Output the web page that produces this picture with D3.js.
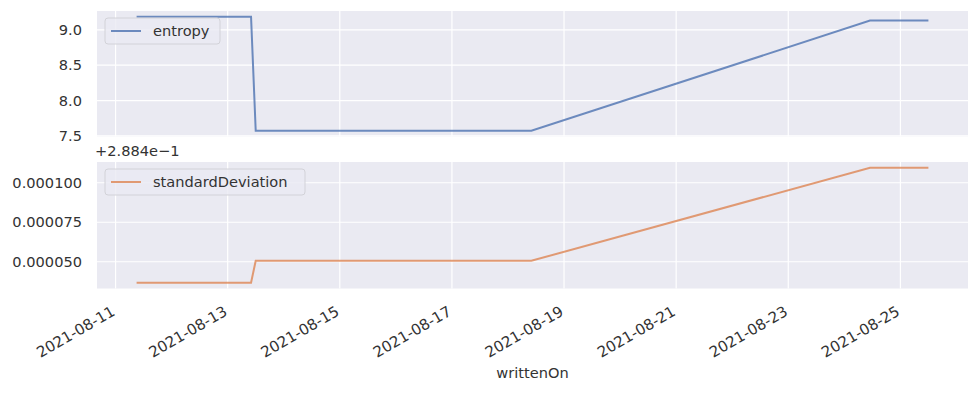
<!DOCTYPE html>
<html>
<head>
<meta charset="utf-8">
<script src="https://cdn.jsdelivr.net/npm/d3@7"></script>
<style>
  body { margin: 0; background: #fff; }
  svg { font-family: "DejaVu Sans", sans-serif; }
</style>
</head>
<body>
<svg id="chart" width="977" height="393"></svg>
<script>
// values
const writtenOn = ['2021-08-11T09:00', '2021-08-13T10:00', '2021-08-13T12:00',
  '2021-08-18T10:00', '2021-08-24T11:00', '2021-08-25T12:00'];
const entropy = [9.185, 9.185, 7.573, 7.573, 9.13, 9.13];
const standardDeviation = [0.2884367, 0.2884367, 0.2884506, 0.2884506, 0.2885095, 0.2885095];
const sdOffset = 0.2884;
const entropyTicks = [7.5, 8.0, 8.5, 9.0];
const sdTicks = [0.00005, 0.000075, 0.0001];
const dateTicks = ['2021-08-11', '2021-08-13', '2021-08-15', '2021-08-17',
  '2021-08-19', '2021-08-21', '2021-08-23', '2021-08-25'];

const parseTime = d3.utcParse('%Y-%m-%dT%H:%M');
const parseDay = d3.utcParse('%Y-%m-%d');
const dates = writtenOn.map(parseTime);

const svg = d3.select('#chart');
const left = 97, right = 968;
const fontSize = 14.6;
const textColor = '#333';

// matplotlib style 5% margins
function padded(ext) {
  const p = (ext[1] - ext[0]) * 0.05;
  return [ext[0] - p, ext[1] + p];
}

const tExt = d3.extent(dates);
const tPad = (tExt[1] - tExt[0]) * 0.05;
const x = d3.scaleUtc()
  .domain([new Date(+tExt[0] - tPad), new Date(+tExt[1] + tPad)])
  .range([left, right]);

const panels = [
  { values: entropy, ticks: entropyTicks, fmt: d3.format('.1f'), top: 11, bottom: 136.5,
    color: '#4c72b0', name: 'entropy', legendW: 115 },
  { values: standardDeviation.map(v => v - sdOffset), ticks: sdTicks, fmt: d3.format('.6f'),
    top: 162, bottom: 288.5, color: '#dd8452', name: 'standardDeviation', legendW: 200 }
];

panels.forEach(p => {
  const y = d3.scaleLinear().domain(padded(d3.extent(p.values))).range([p.bottom, p.top]);
  const g = svg.append('g');

  g.append('rect')
    .attr('x', left).attr('y', p.top)
    .attr('width', right - left).attr('height', p.bottom - p.top)
    .attr('fill', '#eaeaf2');

  // grid
  g.append('g').selectAll('line')
    .data(dateTicks.map(parseDay))
    .join('line')
      .attr('x1', d => x(d)).attr('x2', d => x(d))
      .attr('y1', p.top).attr('y2', p.bottom)
      .attr('stroke', '#fff').attr('stroke-width', 1.2);
  g.append('g').selectAll('line')
    .data(p.ticks)
    .join('line')
      .attr('x1', left).attr('x2', right)
      .attr('y1', d => y(d)).attr('y2', d => y(d))
      .attr('stroke', '#fff').attr('stroke-width', 1.2);

  // y axis
  const yAxis = g.append('g')
    .attr('transform', `translate(${left},0)`)
    .call(d3.axisLeft(y).tickValues(p.ticks).tickFormat(p.fmt).tickSize(0).tickPadding(15));
  yAxis.select('.domain').remove();
  yAxis.selectAll('text').attr('fill', textColor).attr('font-size', fontSize)
    .attr('font-family', '"DejaVu Sans", sans-serif');

  // line
  g.append('path')
    .datum(p.values.map((v, i) => [dates[i], v]))
    .attr('fill', 'none')
    .attr('stroke', p.color)
    .attr('stroke-opacity', 0.8)
    .attr('stroke-width', 2)
    .attr('d', d3.line().x(d => x(d[0])).y(d => y(d[1])));

  // legend
  const lg = g.append('g').attr('transform', `translate(105,${p.top + 7})`);
  lg.append('rect')
    .attr('width', p.legendW).attr('height', 26).attr('rx', 3)
    .attr('fill', '#eaeaf2').attr('fill-opacity', 0.8)
    .attr('stroke', '#d2d2d8');
  lg.append('line')
    .attr('x1', 6).attr('x2', 36).attr('y1', 13).attr('y2', 13)
    .attr('stroke', p.color).attr('stroke-opacity', 0.8).attr('stroke-width', 2);
  lg.append('text')
    .attr('x', 48).attr('y', 13).attr('dy', '0.35em')
    .attr('font-size', fontSize).attr('fill', textColor)
    .text(p.name);
});

// offset text
svg.append('text')
  .attr('x', left - 2).attr('y', 156)
  .attr('font-size', fontSize).attr('fill', textColor)
  .text('+2.884e\u22121');

// x axis
const xAxis = svg.append('g')
  .attr('transform', `translate(0,${panels[1].bottom})`)
  .call(d3.axisBottom(x).tickValues(dateTicks.map(parseDay))
    .tickFormat(d3.utcFormat('%Y-%m-%d')).tickSize(0));
xAxis.select('.domain').remove();
xAxis.selectAll('text')
  .attr('fill', textColor).attr('font-size', 15)
  .attr('font-family', '"DejaVu Sans", sans-serif')
  .attr('text-anchor', 'end')
  .attr('y', 0)
  .attr('dy', 0)
  .attr('transform', 'translate(0,26) rotate(-30)');

svg.append('text')
  .attr('x', (left + right) / 2).attr('y', 378)
  .attr('text-anchor', 'middle')
  .attr('font-size', fontSize).attr('fill', textColor)
  .text('writtenOn');
</script>
</body>
</html>
